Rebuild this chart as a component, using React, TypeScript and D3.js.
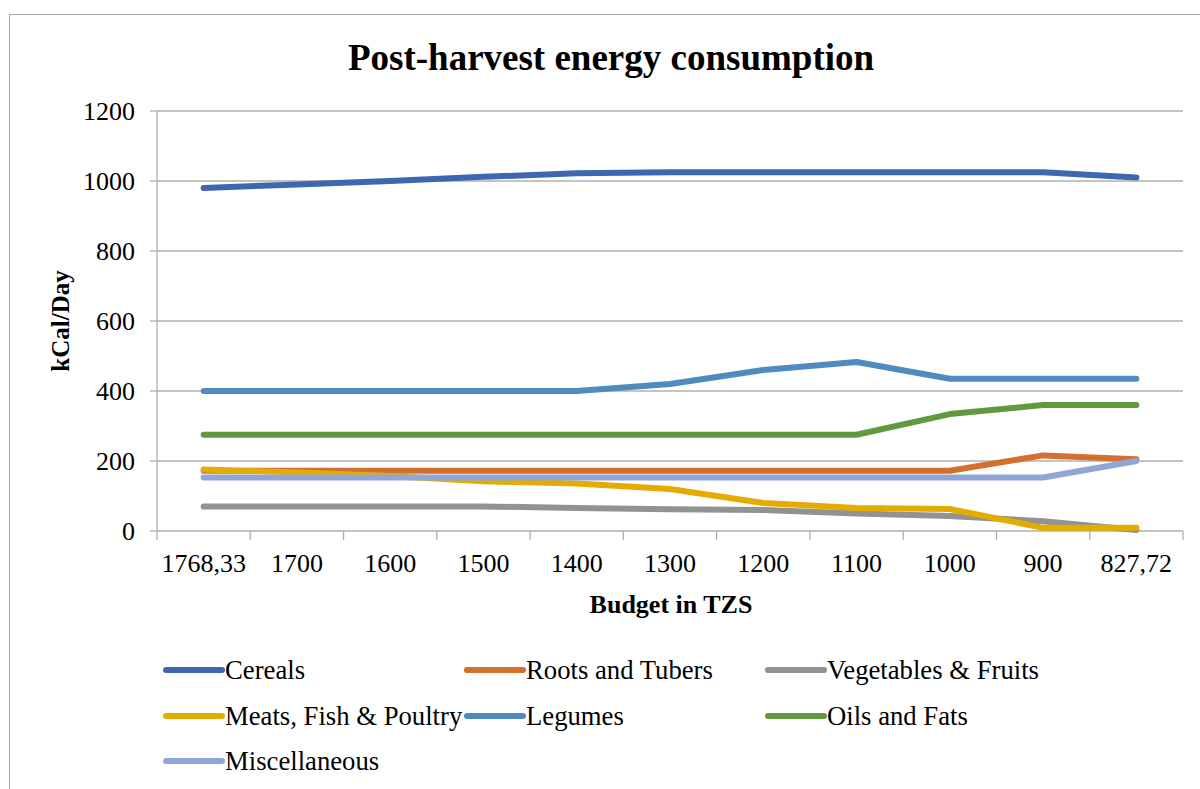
import React from "react";
import * as d3 from "d3";

const categories = ["1768,33", "1700", "1600", "1500", "1400", "1300", "1200", "1100", "1000", "900", "827,72"];
const yTicks = [0, 200, 400, 600, 800, 1000, 1200];

const cereals = [980, 990, 1000, 1012, 1022, 1025, 1025, 1025, 1025, 1025, 1010];
const roots = [172, 172, 172, 172, 172, 172, 172, 172, 172, 216, 205];
const vegetables = [70, 70, 70, 70, 66, 62, 60, 50, 43, 28, 3];
const meats = [176, 167, 157, 142, 136, 120, 80, 66, 63, 9, 9];
const legumes = [400, 400, 400, 400, 400, 420, 460, 483, 435, 435, 435];
const oils = [275, 275, 275, 275, 275, 275, 275, 275, 334, 360, 360];
const misc = [153, 153, 153, 153, 153, 153, 153, 153, 153, 153, 200];

const series = [
  { name: "Cereals", values: cereals, color: "#3F67B1" },
  { name: "Roots and Tubers", values: roots, color: "#D4702E" },
  { name: "Vegetables & Fruits", values: vegetables, color: "#929292" },
  { name: "Meats, Fish & Poultry", values: meats, color: "#E4AC00" },
  { name: "Legumes", values: legumes, color: "#4F8BC0" },
  { name: "Oils and Fats", values: oils, color: "#63993E" },
  { name: "Miscellaneous", values: misc, color: "#8FA6D6" },
];

const serif = { fontFamily: "'Liberation Serif', 'DejaVu Serif', serif" };

export default function App() {
  const left = 157;
  const right = 1183;
  const top = 111;
  const bottom = 531;

  const x = d3.scaleBand<string>().domain(categories).range([left, right]);
  const y = d3.scaleLinear().domain([0, 1200]).range([bottom, top]);

  const line = (vals: number[]) =>
    d3
      .line<number>()
      .x((_, i) => (x(categories[i]) as number) + x.bandwidth() / 2)
      .y((d) => y(d))(vals) as string;

  const tickXs = categories.map((c) => x(c) as number).concat([right]);

  const legendCols = [166, 467, 768];
  const legendRows = [670, 716, 761];

  return (
    <svg width={1200} height={789} style={{ position: "absolute", left: 0, top: 0, background: "#fff" }}>
      <rect x={9.5} y={14.5} width={1200} height={800} fill="#fff" stroke="#A6A6A6" strokeWidth={1} />
      <text x={611} y={70} textAnchor="middle" fontSize={37} fontWeight="bold" style={serif}>
        Post-harvest energy consumption
      </text>

      {/* grid + y axis */}
      {yTicks.map((t) => (
        <g key={t}>
          {t > 0 && <line x1={left} x2={right} y1={y(t)} y2={y(t)} stroke="#B0B0B0" strokeWidth={1.3} />}
          <line x1={left - 7} x2={left} y1={y(t)} y2={y(t)} stroke="#B0B0B0" strokeWidth={1.3} />
          <text x={135} y={y(t) + 9} textAnchor="end" fontSize={26} style={serif}>
            {t}
          </text>
        </g>
      ))}
      <line x1={left} x2={left} y1={top} y2={bottom} stroke="#B0B0B0" strokeWidth={1.3} />
      <line x1={left} x2={right} y1={bottom} y2={bottom} stroke="#B0B0B0" strokeWidth={1.3} />
      {tickXs.map((tx, i) => (
        <line key={i} x1={tx} x2={tx} y1={bottom} y2={bottom + 9} stroke="#B0B0B0" strokeWidth={1.3} />
      ))}
      {categories.map((c) => (
        <text key={c} x={(x(c) as number) + x.bandwidth() / 2} y={572} textAnchor="middle" fontSize={26} style={serif}>
          {c}
        </text>
      ))}

      <text x={671} y={613} textAnchor="middle" fontSize={26} fontWeight="bold" style={serif}>
        Budget in TZS
      </text>
      <text
        transform={`translate(69,${(top + bottom) / 2}) rotate(-90)`}
        textAnchor="middle"
        fontSize={25}
        fontWeight="bold"
        style={serif}
      >
        kCal/Day
      </text>

      {series.map((s) => (
        <path
          key={s.name}
          d={line(s.values)}
          fill="none"
          stroke={s.color}
          strokeWidth={6}
          strokeLinecap="round"
          strokeLinejoin="round"
        />
      ))}

      {series.map((s, i) => {
        const lx = legendCols[i % 3];
        const ly = legendRows[Math.floor(i / 3)];
        return (
          <g key={s.name}>
            <line x1={lx} x2={lx + 56} y1={ly} y2={ly} stroke={s.color} strokeWidth={6} strokeLinecap="round" />
            <text x={lx + 59} y={ly + 9} fontSize={26.7} style={serif}>
              {s.name}
            </text>
          </g>
        );
      })}
    </svg>
  );
}
